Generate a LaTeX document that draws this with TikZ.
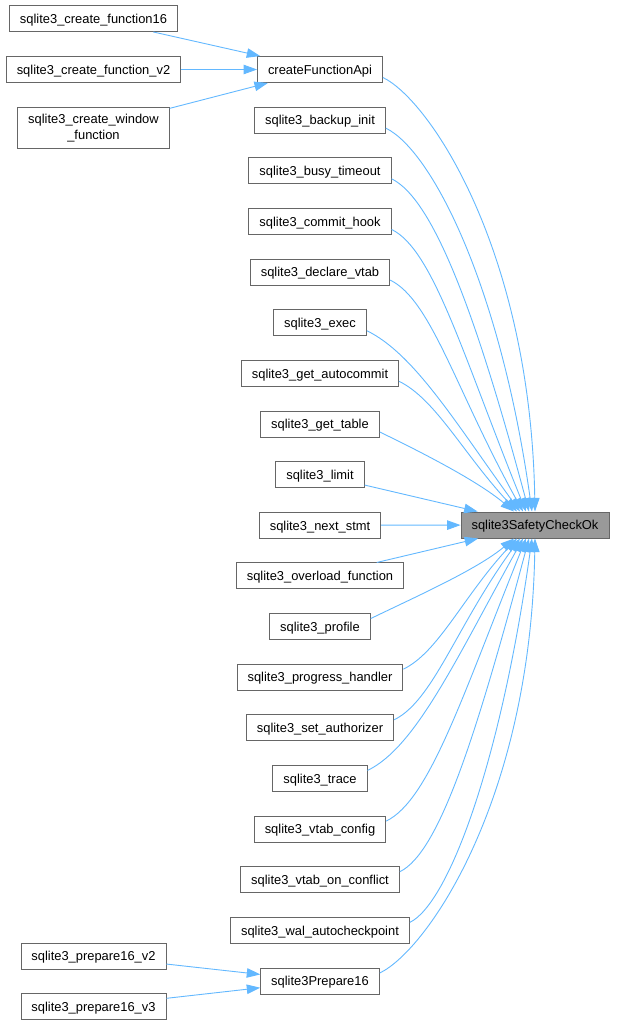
\documentclass[tikz,border=0pt]{standalone}
\usepackage{fontspec}
\setmainfont{Liberation Sans}
\usetikzlibrary{calc,arrows.meta}
\definecolor{edgeblue}{HTML}{63B8FF}
\definecolor{boxgray}{HTML}{666666}
\definecolor{maingray}{HTML}{999999}
\tikzset{
  fn-box/.style={
    draw=boxgray,
    fill=white,
    line width=0.9pt,
    font=\fontsize{12.9}{16.5}\selectfont,
    inner xsep=10.5pt,
    inner ysep=0pt,
    text height=11pt,
    text depth=1.4pt,
    minimum height=26pt
  },
  fn-main/.style={fn-box, fill=maingray},
  fn-two/.style={fn-box, align=center, text height={}, text depth={}, minimum height=41pt},
  call-edge/.style={
    draw=edgeblue,
    line width=0.9pt,
    -{Triangle[length=13.5pt,width=9.5pt]}
  }
}

\begin{document}
\begin{tikzpicture}[x=1pt,y=1pt]
  \useasboundingbox (0,0) rectangle (617,-1025);
  % Callee
  \node[fn-main] (sc) at (535,-525) {sqlite3SafetyCheckOk};
  % Direct callers, one row each
  \foreach \nm/\txt [count=\i from 0] in {
      cfa/createFunctionApi,
      bkp/sqlite3\_backup\_init,
      bsy/sqlite3\_busy\_timeout,
      cmh/sqlite3\_commit\_hook,
      dvt/sqlite3\_declare\_vtab,
      exe/sqlite3\_exec,
      gac/sqlite3\_get\_autocommit,
      gtb/sqlite3\_get\_table,
      lim/sqlite3\_limit,
      nxt/sqlite3\_next\_stmt,
      ovl/sqlite3\_overload\_function,
      prf/sqlite3\_profile,
      prg/sqlite3\_progress\_handler,
      sau/sqlite3\_set\_authorizer,
      trc/sqlite3\_trace,
      vcf/sqlite3\_vtab\_config,
      voc/sqlite3\_vtab\_on\_conflict,
      wal/sqlite3\_wal\_autocheckpoint,
      sp16/sqlite3Prepare16}
    \node[fn-box] (\nm) at (320,{-69.5-50.64*\i}) {\txt};
  % Second level callers
  \node[fn-box] (cf16) at (93.5,-18.5) {sqlite3\_create\_function16};
  \node[fn-box] (cfv2) at (93.5,-69.5) {sqlite3\_create\_function\_v2};
  \node[fn-two] (cwin) at (93.5,-128) {sqlite3\_create\_window\\\_function};
  \node[fn-box] (p16v2) at (93.5,-956) {sqlite3\_prepare16\_v2};
  \node[fn-box] (p16v3) at (93.5,-1006.5) {sqlite3\_prepare16\_v3};
  % Straight edges
  \draw[call-edge] (cf16) -- (cfa);
  \draw[call-edge] (cfv2) -- (cfa);
  \draw[call-edge] (cwin) -- (cfa);
  \draw[call-edge] (p16v2) -- (sp16);
  \draw[call-edge] (p16v3) -- (sp16);
  \draw[call-edge] (lim) -- (sc);
  \draw[call-edge] (nxt) -- (sc);
  \draw[call-edge] (ovl) -- (sc);
  % Curved edges, above (1) and below (-1) the callee
  \foreach \nm/\dist/\sg in {cfa/9/1, bkp/8/1, bsy/7/1, cmh/6/1,
      dvt/5/1, exe/4/1, gac/3/1, gtb/2/1,
      prf/2/-1, prg/3/-1, sau/4/-1, trc/5/-1,
      vcf/6/-1, voc/7/-1, wal/8/-1, sp16/9/-1}
    \draw[call-edge] let
        \p1 = ($(\nm.east)+(0,{-8*(\sg)})$),
        \p2 = ($(sc.center)+({-3*(9-\dist)},{13.5*(\sg)})$),
        \n1 = {\x2-\x1},
        \n2 = {abs(\y2-\y1)},
        \n3 = {40+7*(\dist-2)}
      in (\p1) .. controls +({0.31*\n1},{-0.15*\n1*(\sg)})
        and +({-0.6*\n2*cos(\n3)},{0.6*\n2*sin(\n3)*(\sg)}) .. (\p2);
\end{tikzpicture}
\end{document}
